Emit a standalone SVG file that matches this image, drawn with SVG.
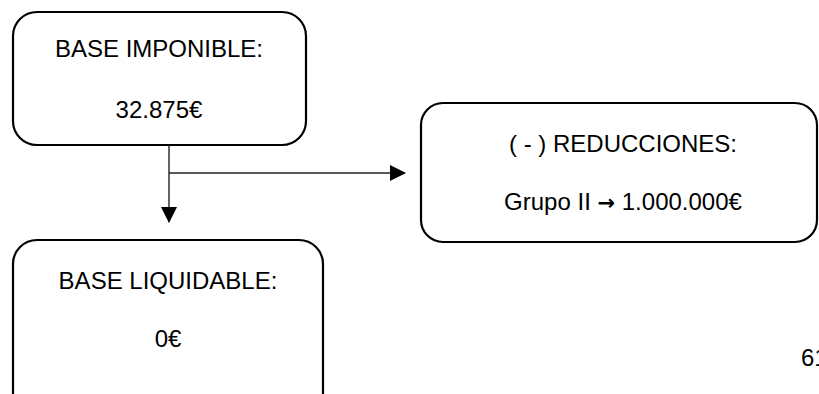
<svg xmlns="http://www.w3.org/2000/svg" width="819" height="394" viewBox="0 0 819 394">
<style>
.box{fill:#fff;stroke:#000;stroke-width:2.2}
.t{font-family:"Liberation Sans",Arial,sans-serif;font-size:24px;fill:#000;text-anchor:middle}
.arr{font-family:"DejaVu Sans",sans-serif;font-weight:bold;font-size:21px}
.c{stroke:#222;stroke-width:1.4;fill:none}
</style>
<defs>
<marker id="ah" markerWidth="16" markerHeight="16" refX="15" refY="8" orient="auto" markerUnits="userSpaceOnUse">
<path d="M0,0 L16,8 L0,16 Z" fill="#000"/>
</marker>
</defs>
<rect width="819" height="394" fill="#fff"/>
<g id="base-imponible">
<rect class="box" x="13" y="12" width="293" height="133" rx="24"/>
<text class="t" x="159" y="57">BASE IMPONIBLE:</text>
<text class="t" x="159" y="118">32.875€</text>
</g>
<g id="reducciones">
<rect class="box" x="421" y="103" width="396" height="139" rx="22"/>
<text class="t" x="623" y="152">( - ) REDUCCIONES:</text>
<text class="t" x="623" y="210">Grupo II <tspan class="arr">→</tspan> 1.000.000€</text>
</g>
<g id="base-liquidable">
<rect class="box" x="13" y="240" width="310" height="180" rx="24"/>
<text class="t" x="168" y="289">BASE LIQUIDABLE:</text>
<text class="t" x="168" y="347">0€</text>
</g>
<g id="connectors">
<line class="c" x1="169" y1="145" x2="169" y2="222" marker-end="url(#ah)"/>
<line class="c" x1="169" y1="173" x2="405" y2="173" marker-end="url(#ah)"/>
</g>
<text class="t" x="801" y="366" style="text-anchor:start">61</text>
</svg>
